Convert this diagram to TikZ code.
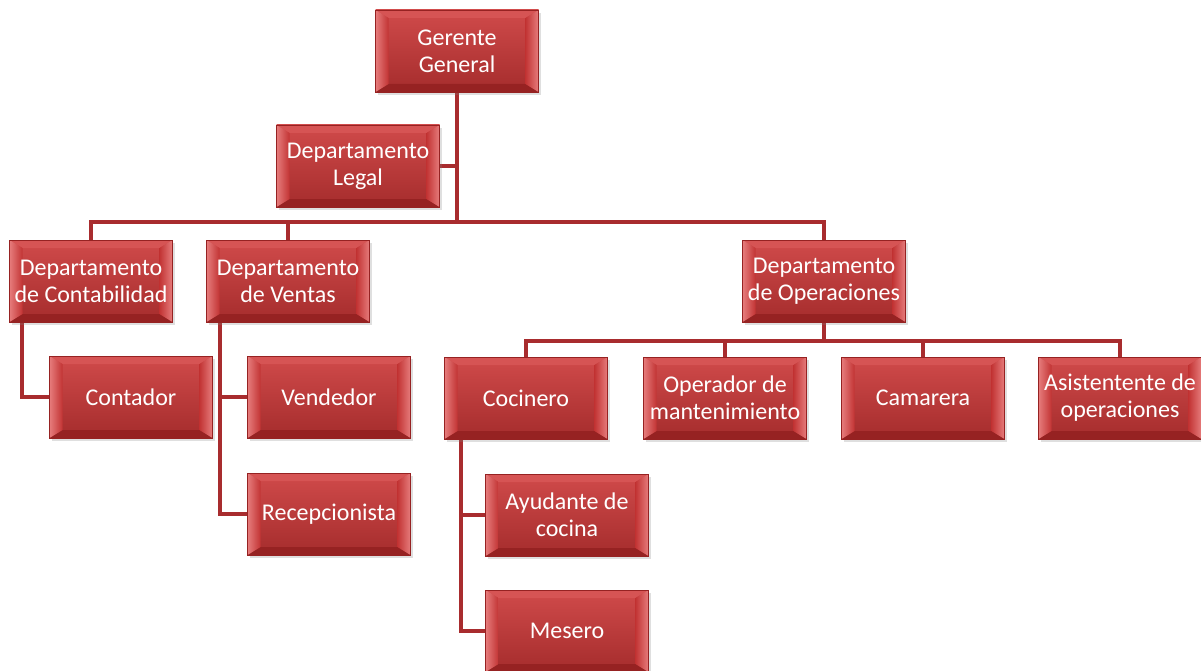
\documentclass[tikz,border=0pt]{standalone}
\usepackage{fontspec}
\setmainfont{Carlito}
\usetikzlibrary{shadows,backgrounds}

\definecolor{boxred}{RGB}{194,52,52}
\definecolor{boxdark}{RGB}{150,34,34}
\definecolor{boxlight}{RGB}{214,84,84}
\definecolor{boxpink}{RGB}{230,124,124}
\definecolor{linkred}{RGB}{168,44,46}

\begin{document}
\begin{tikzpicture}
	[x=1pt,y=-1pt,%%%%%%%%%%%%%%%%%%%%%%%%%%%%%%
	box/.style={rectangle,draw=boxdark,line width=0.8pt,top color=boxlight!70!boxred,bottom color=boxred!85!black,
		minimum width=163pt,minimum height=82pt,inner sep=0pt,align=center,text=white,
		font=\fontsize{24}{27}\selectfont,
		drop shadow={opacity=0.25,shadow xshift=2pt,shadow yshift=-3pt},
		path picture={
			\coordinate (nw) at (path picture bounding box.north west);
			\coordinate (ne) at (path picture bounding box.north east);
			\coordinate (sw) at (path picture bounding box.south west);
			\coordinate (se) at (path picture bounding box.south east);
			\fill[boxlight] (nw) -- (ne) -- ([shift={(-13pt,-8pt)}]ne) -- ([shift={(13pt,-8pt)}]nw) -- cycle;
			\fill[boxdark] (sw) -- (se) -- ([shift={(-13pt,8pt)}]se) -- ([shift={(13pt,8pt)}]sw) -- cycle;
			\shade[left color=boxpink,right color=boxred] (nw) -- ([shift={(13pt,-8pt)}]nw) -- ([shift={(13pt,8pt)}]sw) -- (sw) -- cycle;
			\shade[left color=boxred,right color=boxpink] (ne) -- ([shift={(-13pt,-8pt)}]ne) -- ([shift={(-13pt,8pt)}]se) -- (se) -- cycle;
		}},
	link/.style={draw=linkred,line width=4.5pt},
	]%%%%%%%%%%%%%%%%%%%%%%%%%%%%%%
	\useasboundingbox (0,0) rectangle (1201,671);
	
	% boxes
	\node[box] (gerente) at (457,51) {Gerente\\General};
	\node[box] (legal) at (358,166) {Departamento\\Legal};
	\node[box] (conta) at (91,281) {Departamento\\de Contabilidad};
	\node[box] (ventas) at (288,281) {Departamento\\de Ventas};
	\node[box] (oper) at (824,281) {Departamento\\de Operaciones};
	\node[box] (contador) at (131,397) {Contador};
	\node[box] (vendedor) at (329,397) {Vendedor};
	\node[box] (recep) at (329,514) {Recepcionista};
	\node[box] (cocinero) at (526,398) {Cocinero};
	\node[box] (operador) at (725,398) {Operador de\\mantenimiento};
	\node[box] (camarera) at (923,398) {Camarera};
	\node[box] (asist) at (1120,398) {Asistentente de\\operaciones};
	\node[box] (ayudante) at (567,515) {Ayudante de\\cocina};
	\node[box] (mesero) at (567,631) {Mesero};
	
	\coordinate (bus) at (457,222);
	\coordinate (obus) at (824,341);
	
	% connectors
	\begin{pgfonlayer}{background}
	\draw[link] (gerente) -- (gerente |- bus);
	\draw[link] (legal) -- (legal -| gerente);
	\draw[link] (conta) |- (oper |- bus) -- (oper);
	\draw[link] (ventas) -- (ventas |- bus);
	\draw[link] ([xshift=13pt]conta.west) |- (contador);
	\draw[link] ([xshift=14pt]ventas.west) |- (recep);
	\draw[link] (vendedor) -- (vendedor -| recep.west) -- ++(-27,0);
	\draw[link] (oper) -- (obus);
	\draw[link] (cocinero) |- (asist |- obus) -- (asist);
	\draw[link] (operador) -- (operador |- obus);
	\draw[link] (camarera) -- (camarera |- obus);
	\draw[link] ([xshift=17pt]cocinero.west) |- (mesero);
	\draw[link] (ayudante) -- (ayudante -| mesero.west) -- ++(-24,0);
	\end{pgfonlayer}
	
\end{tikzpicture}
\end{document}
